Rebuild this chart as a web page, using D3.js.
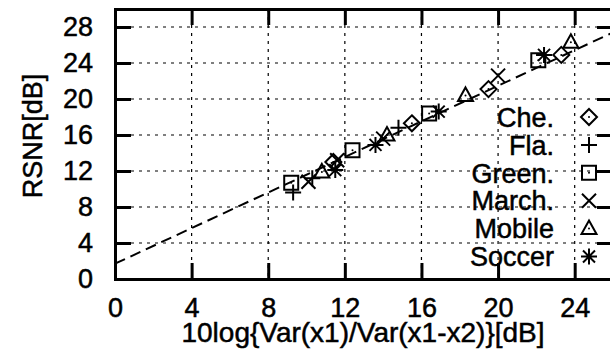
<!DOCTYPE html>
<html>
<head>
<meta charset="utf-8">
<script src="https://cdn.jsdelivr.net/npm/d3@7"></script>
<style>
	body { margin: 0; background: #fff; }
	text { font-family: 'Liberation Sans', Arial, sans-serif; fill: #000; stroke: #000; stroke-width: 0.5px; }
</style>
</head>
<body>
<div id="chart"></div>
<script>
// series: [x, y] in dB
const seriesNames = ['Che.', 'Fla.', 'Green.', 'March.', 'Mobile', 'Soccer'];
const markerKinds = ['diamond', 'plus', 'square', 'cross', 'triangle', 'asterisk'];
const cheX = [11.4, 15.5, 19.5, 23.3],
		cheY = [13.0, 17.3, 21.1, 24.9];
const flaX = [9.3, 10.3, 14.8],
		flaY = [9.6, 11.2, 16.8];
const greenX = [9.2, 12.4, 16.4, 22.1],
		greenY = [10.7, 14.3, 18.4, 24.3];
const marchX = [10.1, 11.6, 14.0, 20.0],
		marchY = [10.8, 13.2, 15.6, 22.6];
const mobileX = [10.8, 14.2, 18.3, 23.8],
		mobileY = [11.9, 16.0, 20.4, 26.3];
const soccerX = [11.5, 13.6, 16.9, 22.4],
		soccerY = [12.1, 14.9, 18.6, 24.9];
const allX = [cheX, flaX, greenX, marchX, mobileX, soccerX],
		allY = [cheY, flaY, greenY, marchY, mobileY, soccerY];

// fitted dashed line, end points
const fitX = [0, 26],
		fitY = [1.7, 27.4];

const xTicks = [0, 4, 8, 12, 16, 20, 24],
		yTicks = [0, 4, 8, 12, 16, 20, 24, 28];

const W = 610, H = 354;
const mLeft = 115, mRight = 613, mTop = 9, mBottom = 279;
const fontSize = '27px';

const x = d3.scaleLinear().domain([0, 26]).range([mLeft, mRight]);
const y = d3.scaleLinear().domain([0, 30]).range([mBottom, mTop]);

const svg = d3.select('#chart').append('svg')
		.attr('width', W)
		.attr('height', H);

svg.append('clipPath').attr('id', 'clip')
	.append('rect')
		.attr('x', mLeft).attr('y', mTop)
		.attr('width', mRight - mLeft).attr('height', mBottom - mTop);

// dotted grid
const grid = svg.append('g')
		.attr('stroke', '#000')
		.attr('stroke-width', 1.2)
		.attr('stroke-dasharray', '3,5');
grid.selectAll('.gx').data(xTicks.slice(1)).enter().append('line')
		.attr('x1', d => x(d)).attr('x2', d => x(d))
		.attr('y1', mTop).attr('y2', mBottom);
grid.selectAll('.gy').data(yTicks.slice(1)).enter().append('line')
		.attr('x1', mLeft).attr('x2', mRight)
		.attr('y1', d => y(d)).attr('y2', d => y(d));

// axes with inward ticks
const tickLen = 16;
const xAxis = d3.axisBottom(x).tickValues(xTicks).tickSize(-tickLen).tickPadding(19);
const xTop = d3.axisTop(x).tickValues(xTicks).tickSize(-tickLen).tickFormat('');
const yAxis = d3.axisLeft(y).tickValues(yTicks).tickSize(-tickLen).tickPadding(22);
const yRight = d3.axisRight(y).tickValues(yTicks).tickSize(-tickLen).tickFormat('');

const gx = svg.append('g').attr('transform', `translate(0,${mBottom})`).call(xAxis);
svg.append('g').attr('transform', `translate(0,${mTop})`).call(xTop);
const gy = svg.append('g').attr('transform', `translate(${mLeft},0)`).call(yAxis);
svg.append('g').attr('transform', `translate(${mRight},0)`).call(yRight);

svg.selectAll('.domain').attr('stroke-width', 3);
svg.selectAll('.tick line').attr('stroke-width', 3);
svg.selectAll('.tick text').style('font-size', fontSize);
gx.selectAll('.tick text').attr('dy', '0.71em');

// fitted line
svg.append('path')
		.datum(d3.zip(fitX, fitY))
		.attr('clip-path', 'url(#clip)')
		.attr('d', d3.line().x(d => x(d[0])).y(d => y(d[1])))
		.attr('fill', 'none')
		.attr('stroke', '#000')
		.attr('stroke-width', 2)
		.attr('stroke-dasharray', '11,6');

// marker shapes
const markerPath = (kind) => {
	switch(kind) {
		case 'diamond': return 'M0,-8L8,0L0,8L-8,0Z';
		case 'plus': return 'M-8,0H8M0,-8V8';
		case 'square': return 'M-7,-7H7V7H-7Z';
		case 'cross': return 'M-7,-7L7,7M-7,7L7,-7';
		case 'triangle': return 'M0,-8L7.5,5.5H-7.5Z';
		case 'asterisk': return 'M-8,0H8M0,-8V8M-6,-6L6,6M-6,6L6,-6';
	}
};
const hasDot = k => k == 'diamond' || k == 'square' || k == 'triangle';

const drawMarker = (g, kind) => {
	g.append('path')
		.attr('d', markerPath(kind))
		.attr('fill', 'none')
		.attr('stroke', '#000')
		.attr('stroke-width', 2);
	if (hasDot(kind)) {
		g.append('circle').attr('r', 1).attr('fill', '#000');
	}
};

seriesNames.forEach((name, i) => {
	const pts = d3.zip(allX[i], allY[i]);
	svg.append('g').selectAll('g').data(pts).enter().append('g')
		.attr('transform', d => `translate(${x(d[0])},${y(d[1])})`)
		.each(function() { drawMarker(d3.select(this), markerKinds[i]); });
});

// legend, no box
const legend = svg.append('g');
seriesNames.forEach((name, i) => {
	const ly = 117 + i * 27.9;
	legend.append('text')
		.attr('x', 554).attr('y', ly)
		.attr('dy', '0.36em')
		.attr('text-anchor', 'end')
		.style('font-size', fontSize)
		.text(name);
	drawMarker(legend.append('g').attr('transform', `translate(589,${ly})`), markerKinds[i]);
});

// axis titles
svg.append('text')
		.attr('x', 363).attr('y', 342)
		.attr('text-anchor', 'middle')
		.style('font-size', '28px')
		.text('10log{Var(x1)/Var(x1-x2)}[dB]');
svg.append('text')
		.attr('transform', 'translate(42,136) rotate(-90)')
		.attr('text-anchor', 'middle')
		.style('font-size', fontSize)
		.text('RSNR[dB]');
</script>
</body>
</html>
